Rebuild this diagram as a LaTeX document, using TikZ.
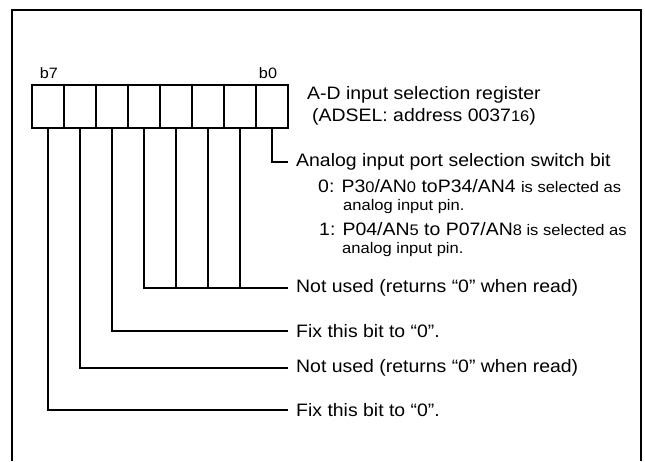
\documentclass[tikz,border=0pt]{standalone}
\usepackage{fontspec}
\setmainfont{Liberation Sans}[FakeStretch=1.08]
\newcommand{\smtxt}[1]{{\fontsize{15.3pt}{17pt}\selectfont #1}}

\begin{document}
\begin{tikzpicture}[x=1pt,y=-1pt,
  cell/.style={draw,line width=1.4pt,minimum width=32pt,minimum height=43pt,inner sep=0pt},
  desc/.style={anchor=west,inner xsep=8pt,inner ysep=0pt,font=\fontsize{18pt}{20pt}\selectfont},
  txt/.style={anchor=west,inner sep=0pt,font=\fontsize{18pt}{20pt}\selectfont},
  smalltxt/.style={anchor=west,inner sep=0pt,font=\fontsize{15.3pt}{17pt}\selectfont},
  bitlbl/.style={font=\fontsize{15pt}{17pt}\selectfont},
  lead/.style={line width=1.4pt}]
  \useasboundingbox (0,0) rectangle (645,461);
  \draw[line width=2pt] (12,461) -- (12,10) -- (641,10) -- (641,461);
  \foreach \b in {0,...,7}{\node[cell] (c\b) at ({48+32*(7-\b)},106.5) {};}
  \node[bitlbl] (b7) at (49,73) {b7};
  \node[bitlbl] (b0) at (268,73) {b0};
  \node[txt] (reg) at (307,95) {A-D input selection register};
  \node[txt] (adr) at (312,117) {(ADSEL: address 0037\smtxt{16})};
  \node[desc] (d0) at (288,162) {Analog input port selection switch bit};
  \node[txt] (d0a) at (318,186) {0: P3\smtxt{0}/AN\smtxt{0} toP34/AN4 \smtxt{is selected as}};
  \node[smalltxt] (d0b) at (343,207) {analog input pin.};
  \node[txt] (d0c) at (319,229) {1: P04/AN\smtxt{5} to P07/AN\smtxt{8 is selected as}};
  \node[smalltxt] (d0d) at (342,250) {analog input pin.};
  \node[desc] (d1) at (288,288) {Not used (returns “0” when read)};
  \node[desc] (d5) at (288,331) {Fix this bit to “0”.};
  \node[desc] (d6) at (288,368) {Not used (returns “0” when read)};
  \node[desc] (d7) at (288,410) {Fix this bit to “0”.};
  \draw[lead] (c0.south) |- (d0.west);
  \draw[lead] (c4.south) |- (d1.west);
  \foreach \b in {1,2,3}{\draw[lead] (c\b.south) -- (c\b.south |- d1.west);}
  \foreach \b in {5,6,7}{\draw[lead] (c\b.south) |- (d\b.west);}
\end{tikzpicture}
\end{document}
